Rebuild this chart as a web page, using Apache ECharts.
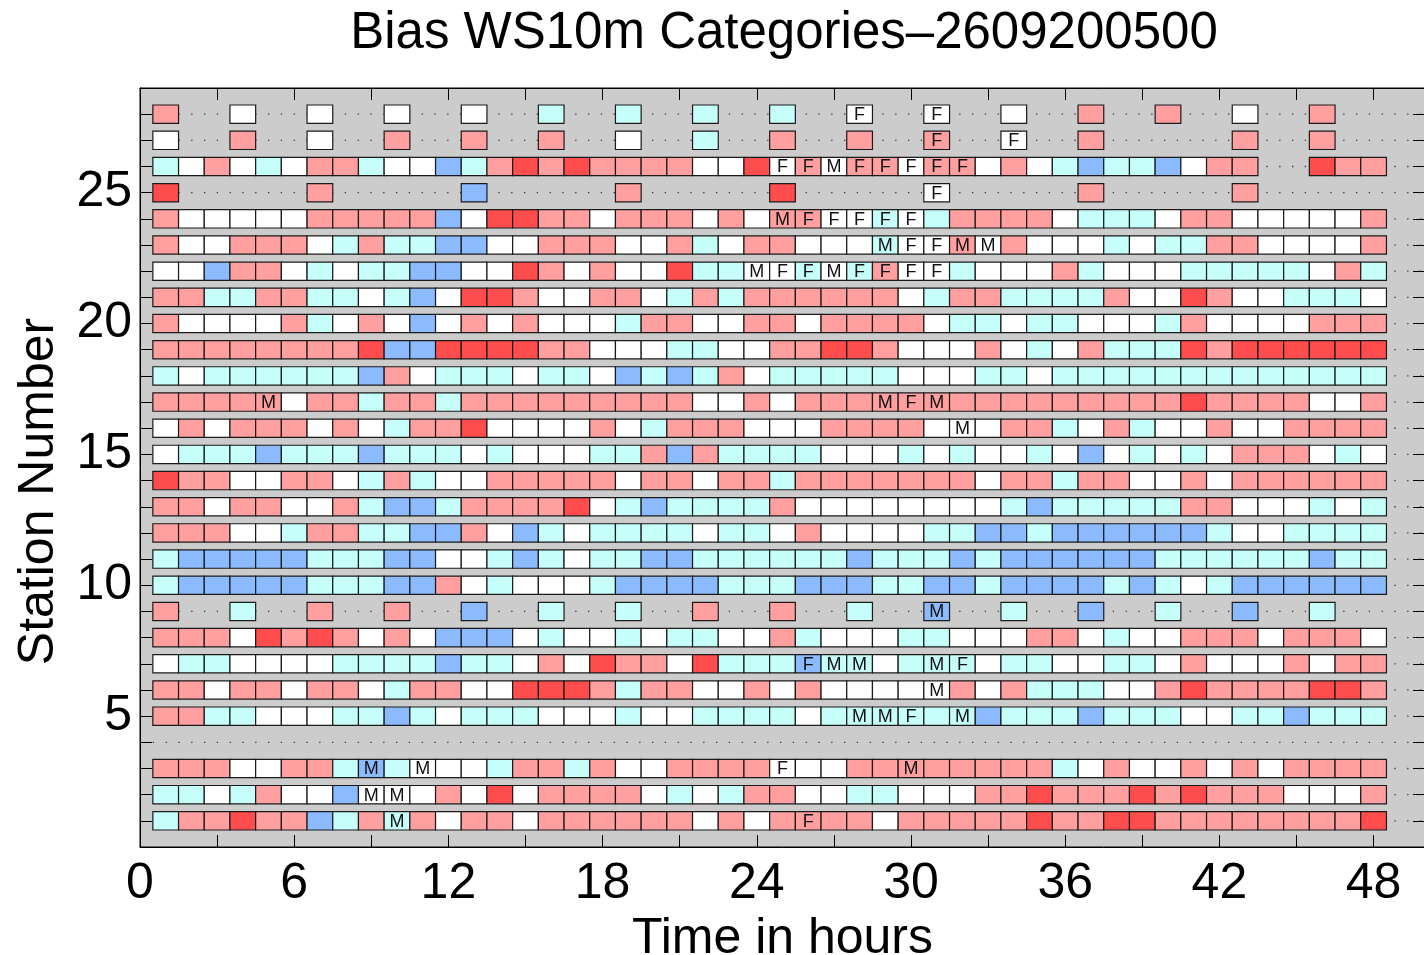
<!DOCTYPE html>
<html>
<head>
<meta charset="utf-8">
<title>Bias WS10m Categories</title>
<script src="https://cdn.jsdelivr.net/npm/echarts@6/dist/echarts.min.js"></script>
<style>
html, body { margin: 0; padding: 0; background: #ffffff; }
#chart { width: 1424px; height: 955px; }
</style>
</head>
<body>
<div id="chart"></div>
<script>
const TITLE = "Bias WS10m Categories\u20132609200500";
const FONT = "'Liberation Sans', Arial, Helvetica, sans-serif";

// forecast hours 1..48 and station numbers 1..28
const hours = [1, 2, 3, 4, 5, 6, 7, 8, 9, 10, 11, 12, 13, 14, 15, 16,
    17, 18, 19, 20, 21, 22, 23, 24, 25, 26, 27, 28, 29, 30, 31, 32,
    33, 34, 35, 36, 37, 38, 39, 40, 41, 42, 43, 44, 45, 46, 47, 48];
const stations = [1, 2, 3, 4, 5, 6, 7, 8, 9, 10, 11, 12, 13, 14,
    15, 16, 17, 18, 19, 20, 21, 22, 23, 24, 25, 26, 27, 28];

const xTickLabels = [0, 6, 12, 18, 24, 30, 36, 42, 48];
const yTickLabels = [5, 10, 15, 20, 25];

// bias category per hour, one string per station (station 1 first)
// W = near zero, C = slight negative, B = negative, P = slight positive, R = positive, - = no data
const biasRows = [
    "CPPRPPBCPCPWPPWP" + "PPPPPWPWPPPPWPPP" + "PPRPPRRPPPPPPPPR",
    "CCWCPWWBWWWPWRWP" + "PPPWCWCPPWWCCWWW" + "PPRPPPRPRPPPWWWP",
    "PPPWWPPCBCWWWCPP" + "CPWWPPPPWWWPPPPP" + "PPPCWPWWPWPWPPPP",
    "----------------" + "----------------" + "----------------",
    "PPCCWWWCCBCWCCCW" + "WWCWWCCCCWCCCCCC" + "BCCCBCCCWWCCBCCC",
    "PPWPPWPPWCPPWWRR" + "RPCPPWWPWPWWWWWP" + "WPCCCWWPRPPPPRRP",
    "WCCWWWWCCCCBCCWP" + "WRPPWRCCCBCCWCCC" + "WCCWWCCWPWWWPWPP",
    "PPPWRPRPWPWBBBWC" + "WWCWCCWWPCWWWCCW" + "WWPPWCWWPPPWPPPW",
    "P--C--P--P--B--C" + "--C--P--P--C--B-" + "-C--B--C--B--C--",
    "CBBBBBCCCBBPWCWW" + "WCBBBBCCCBBBCCBB" + "CBBBBCBCWCBBBBBB",
    "CBBBBBCCCBBWWCBC" + "WCCBBCCCCCCBCCCB" + "CBBBBBBCCCCCCBCC",
    "PPPWWCPPCCBBPWBC" + "WCCCCWCCWPWWWWCC" + "BBCBBBBBBCWWCCCC",
    "PPWPPWWPCBBCPPPP" + "RWCBCCCCPWWWWWWW" + "WCBCCCCCPPWWWCWC",
    "RPPWWPPWCPCWWPPP" + "PPWPPWPPCPPPPPPP" + "WPPCPPWWPWPPPPPP",
    "WCCCBCCCBCCCWCWW" + "WCCPBPCCCCWWWCWC" + "WWCWBWCWCWPPPWCW",
    "WPWPPPWPWCPPRWWW" + "WPWCPPPWWWPPPPWW" + "WPPCWPCWWPWWPPPP",
    "PPPPPWPPCPPCPPPP" + "PPPPPWWPWPPPPPPP" + "PPPPPPPPRPPPPWWP",
    "CWCCCCCCBPWCCCWC" + "CWBCBCPWCCCCCWWW" + "CCWCCCCCCCCCCCCC",
    "PPPPPPPPRBBRRRRP" + "PWWWCCWWPPRRPWWW" + "PWCWPCCCRPRRRRRR",
    "PWWWWPCWPWBWPWPW" + "WWCPPWWPPWPPPPWC" + "CWCCWWWCPWWWWPPP",
    "PPCCPPCCWCBWRRPW" + "WPPWCPCPPPPPPWCP" + "PCCCCPWWRPWWCCCW",
    "WWBPPWCWCCBBWWRP" + "WPWWRCCWWCWCPWWC" + "WWWPCWWWCCCCCWPC",
    "PWWPPPWCPCCBBWWP" + "PPWWPCWPPWWWCWWP" + "WPWWWCWCCPPWWWWP",
    "PWWWWWPPPPPBWRRP" + "PWPPPWPWPPWWCWCP" + "PPPWCCCWPPWWWWWP",
    "R-----P-----B---" + "--P-----R-----W-" + "----P-----P-----",
    "CWPWCWPPCWWBCPRP" + "RPPPPWWRWPWPPWPP" + "WPWCBCCBWPP--RPP",
    "W--P--W--P--P--P" + "--W--C--P--P--P-" + "-W--P-----P--P--",
    "P--W--W--W--W--C" + "--C--C--C--W--W-" + "-W--P--P--W--P--"
];

// letters printed in cells: [station, hour, letter]
const flagCells = [
    [1, 10, "M"], [1, 26, "F"],
    [2, 9, "M"], [2, 10, "M"],
    [3, 9, "M"], [3, 11, "M"], [3, 25, "F"], [3, 30, "M"],
    [5, 28, "M"], [5, 29, "M"], [5, 30, "F"], [5, 32, "M"],
    [6, 31, "M"],
    [7, 26, "F"], [7, 27, "M"], [7, 28, "M"], [7, 31, "M"], [7, 32, "F"],
    [9, 31, "M"],
    [16, 32, "M"],
    [17, 5, "M"], [17, 29, "M"], [17, 30, "F"], [17, 31, "M"],
    [22, 24, "M"], [22, 25, "F"], [22, 26, "F"], [22, 27, "M"],
    [22, 28, "F"], [22, 29, "F"], [22, 30, "F"], [22, 31, "F"],
    [23, 29, "M"], [23, 30, "F"], [23, 31, "F"], [23, 32, "M"], [23, 33, "M"],
    [24, 25, "M"], [24, 26, "F"], [24, 27, "F"], [24, 28, "F"], [24, 29, "F"], [24, 30, "F"],
    [25, 31, "F"],
    [26, 25, "F"], [26, 26, "F"], [26, 27, "M"], [26, 28, "F"],
    [26, 29, "F"], [26, 30, "F"], [26, 31, "F"], [26, 32, "F"],
    [27, 31, "F"], [27, 34, "F"],
    [28, 28, "F"], [28, 31, "F"]
];

const catCodes = ["W", "C", "B", "P", "R"];
const catColors = ["#ffffff", "#c6fffa", "#8cbaff", "#ff9f9f", "#ff4d4d"];
const flagLetters = ["", "M", "F"];

function flagOf(station, hour) {
    const f = flagCells.find(c => c[0] === station && c[1] === hour);
    return f ? flagLetters.indexOf(f[2]) : 0;
}

const cellData = [];
biasRows.forEach((row, i) => {
    for (let h = 0; h < row.length; h++) {
        const code = row[h];
        if (code === "-") continue;
        cellData.push([hours[h], stations[i], catCodes.indexOf(code), flagOf(stations[i], hours[h])]);
    }
});

const guideData = stations.map(s => [0, s]);

function renderGuide(params, api) {
    const a = api.coord([0, api.value(1)]);
    const b = api.coord([50, api.value(1)]);
    return {
        type: "line",
        shape: { x1: a[0], y1: a[1], x2: b[0], y2: b[1] },
        style: { stroke: "#333333", lineWidth: 1.3, lineDash: [1.3, 11.5] }
    };
}

function renderCell(params, api) {
    const p = api.coord([api.value(0), api.value(1)]);
    const s = api.size([1, 0.7]);
    const rect = {
        type: "rect",
        shape: { x: p[0] - s[0] / 2, y: p[1] - s[1] / 2, width: s[0], height: s[1] },
        style: { fill: catColors[api.value(2)], stroke: "#1a1a1a", lineWidth: 1.2 }
    };
    const letter = flagLetters[api.value(3)];
    if (!letter) return rect;
    return {
        type: "group",
        children: [rect, {
            type: "text",
            x: p[0],
            y: p[1] + 1,
            style: {
                text: letter,
                fill: "#111111",
                fontSize: 18,
                fontFamily: FONT,
                align: "center",
                verticalAlign: "middle"
            }
        }]
    };
}

function xAxisOf(position, withLabels) {
    return {
        type: "value",
        position: position,
        min: 0,
        max: 50,
        interval: 3,
        axisLine: { show: true, onZero: false, lineStyle: { color: "#000", width: 1 } },
        axisTick: { show: true, inside: true, length: 12, lineStyle: { color: "#000", width: 1 } },
        axisLabel: {
            show: withLabels,
            margin: 12,
            fontSize: 50,
            fontFamily: FONT,
            color: "#000",
            formatter: v => xTickLabels.includes(v) ? String(v) : ""
        },
        splitLine: { show: false },
        name: withLabels ? "Time in hours" : "",
        nameLocation: "middle",
        nameGap: 54,
        nameTextStyle: { fontSize: 50, fontFamily: FONT, color: "#000" }
    };
}

function yAxisOf(position, withLabels) {
    return {
        type: "value",
        position: position,
        min: 0,
        max: 29,
        interval: 1,
        axisLine: { show: true, onZero: false, lineStyle: { color: "#000", width: 1 } },
        axisTick: { show: true, inside: true, length: 12, lineStyle: { color: "#000", width: 1 } },
        axisLabel: {
            show: withLabels,
            margin: 8,
            fontSize: 50,
            fontFamily: FONT,
            color: "#000",
            formatter: v => yTickLabels.includes(v) ? String(v) : ""
        },
        splitLine: { show: false },
        name: withLabels ? "Station Number" : "",
        nameLocation: "middle",
        nameGap: 76,
        nameTextStyle: { fontSize: 50, fontFamily: FONT, color: "#000", padding: [0, 48, 0, 0] }
    };
}

const chart = echarts.init(document.getElementById("chart"));

chart.setOption({
    animation: false,
    backgroundColor: "#ffffff",
    title: {
        text: TITLE,
        left: 784,
        top: 8,
        padding: 0,
        textAlign: "center",
        textStyle: { fontSize: 51, fontWeight: "normal", fontFamily: FONT, color: "#000" }
    },
    grid: {
        left: 140,
        top: 88,
        right: -1,
        bottom: 108,
        outerBoundsMode: "none",
        containLabel: false,
        show: true,
        backgroundColor: "#cccccc",
        borderColor: "#000",
        borderWidth: 1
    },
    xAxis: [xAxisOf("bottom", true), xAxisOf("top", false)],
    yAxis: [yAxisOf("left", true), yAxisOf("right", false)],
    series: [
        {
            type: "custom",
            name: "guides",
            renderItem: renderGuide,
            data: guideData,
            z: 1,
            silent: true
        },
        {
            type: "custom",
            name: "bias",
            renderItem: renderCell,
            data: cellData,
            z: 2
        }
    ]
});
</script>
</body>
</html>
